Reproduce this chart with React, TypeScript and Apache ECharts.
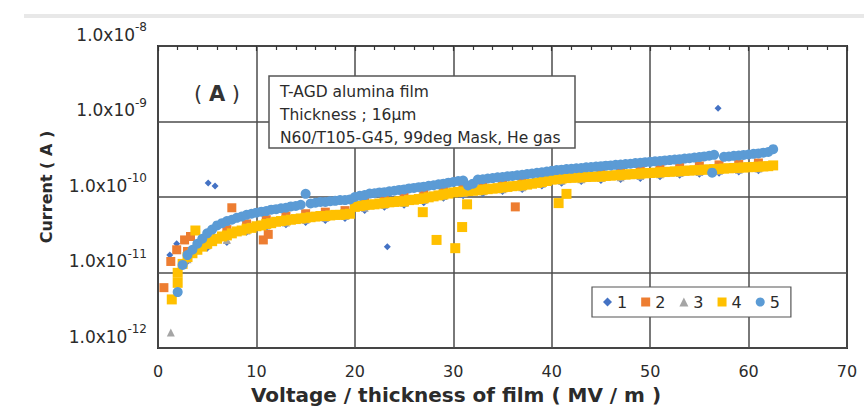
import React, { useEffect, useRef } from "react";
import * as echarts from "echarts";

// ---------- data (current values in pA = 1e-12 A) ----------
const seriesNames = ["1", "2", "3", "4", "5"];
const xMin = 0;
const xMax = 70;
const xStep = 10;
const yMin = 1e-12;
const yMax = 1e-8;

const bandX = [
  3, 3.5, 4, 4.5, 5, 5.5, 6, 6.5, 7, 7.5,
  8, 8.5, 9, 9.5, 10, 10.5, 11, 11.5, 12, 12.5,
  13, 13.5, 14, 14.5, 15, 15.5, 16, 16.5, 17, 17.5,
  18, 18.5, 19, 19.5, 20, 20.5, 21, 21.5, 22, 22.5,
  23, 23.5, 24, 24.5, 25, 25.5, 26, 26.5, 27, 27.5,
  28, 28.5, 29, 29.5, 30, 30.5, 31, 31.5, 32, 32.5,
  33, 33.5, 34, 34.5, 35, 35.5, 36, 36.5, 37, 37.5,
  38, 38.5, 39, 39.5, 40, 40.5, 41, 41.5, 42, 42.5,
  43, 43.5, 44, 44.5, 45, 45.5, 46, 46.5, 47, 47.5,
  48, 48.5, 49, 49.5, 50, 50.5, 51, 51.5, 52, 52.5,
  53, 53.5, 54, 54.5, 55, 55.5, 56, 56.5, 57, 57.5,
  58, 58.5, 59, 59.5, 60, 60.5, 61, 61.5, 62, 62.5,
];

const s5Band = [
  17, 20, 24, 28, 33, 37, 42, 45, 48, 50,
  53, 55, 58, 60, 62, 64, 65, 68, 69, 71,
  72, 75, 76, 79, 110, 82, 84, 86, 86, 88,
  89, 91, 91, 93, 100, 104, 106, 111, 112, 115,
  116, 119, 121, 124, 126, 130, 132, 135, 137, 141,
  143, 147, 150, 155, 158, 163, 165, 142, 150, 170,
  172, 176, 178, 182, 184, 188, 190, 194, 197, 201,
  204, 209, 212, 217, 222, 227, 230, 234, 236, 240,
  242, 247, 249, 253, 256, 260, 262, 267, 269, 273,
  276, 281, 284, 289, 292, 297, 300, 305, 308, 313,
  317, 323, 327, 333, 338, 345, 352, 362, null, 340,
  344, 351, 355, 361, 366, 373, 378, 387, 395, 430,
];

const s4Band = [
  16, 18, 20, 22, 24, 26, 28, 30, 31, 33,
  35, 36, 38, 39, 41, 42, 44, 45, 47, 48,
  49, 50, 51, 52, 53, 54, 55, 56, 56, 57,
  58, 58, 59, 60, 74, 76, 78, 79, 80, 82,
  83, 85, 86, 88, 87, 91, 92, 94, 96, 99,
  102, 105, 108, 111, 115, 117, 118, 120, 121, 123,
  125, 127, 129, 131, 134, 136, 139, 141, 143, 146,
  150, 154, 158, 163, 170, 172, 175, 178, 180, 181,
  182, 184, 185, 187, 186, 190, 192, 194, 196, 198,
  200, 202, 204, 206, 208, 210, 212, 214, 216, 218,
  220, 222, 224, 226, 228, 230, 232, 234, 236, 238,
  240, 242, 244, 246, 248, 250, 252, 254, 256, 262,
];

const coarseX = [
  3, 5, 7, 9, 11, 13, 15, 17, 19, 21,
  23, 25, 27, 29, 31, 33, 35, 37, 39, 41,
  43, 45, 47, 49, 51, 53, 55, 57, 59, 61,
];
const s1Band = [
  14, 21, 25, 34, 39, 43, 46, 49, 52, 66,
  73, 78, 84, 96, 104, 110, 118, 126, 140, 152,
  160, 165, 170, 176, 186, 194, 200, 206, 214, 222,
];
const s2Band = [
  19, 28, 37, 44, 50, 56, 60, 63, 66, 88,
  96, 102, 110, 124, 136, 144, 154, 166, 182, 200,
  208, 214, 222, 230, 240, 250, 258, 266, 274, 282,
];
const s3Band = [
  15, 23, 27, 36, 42, 46, 50, 53, 56, 72,
  79, 84, 91, 103, 112, 119, 127, 135, 150, 164,
  172, 178, 183, 190, 200, 208, 215, 222, 230, 238,
];

const s1ExtraX = [1.2, 1.9, 5.1, 5.8, 23.3, 56.9];
const s1ExtraY = [17, 24, 153, 140, 22, 1500];
const s2ExtraX = [0.6, 1.3, 1.9, 2.7, 3.3, 7.5, 10.7, 11.2, 36.3];
const s2ExtraY = [6.3, 14, 20, 27, 30, 72, 27, 32, 74];
const s3ExtraX = [1.3];
const s3ExtraY = [1.6];
const s4ExtraX = [1.4, 2.0, 2.0, 2.5, 3.8, 26.9, 28.3, 30.2, 30.9, 31.4, 40.7, 41.5];
const s4ExtraY = [4.4, 7.3, 9.9, 13, 36, 63, 27, 21, 40, 80, 83, 110];
const s5ExtraX = [2.0, 2.5, 56.3];
const s5ExtraY = [5.5, 12.6, 210];

const annotationLines = [
  "T-AGD alumina film",
  "Thickness ; 16μm",
  "N60/T105-G45, 99deg Mask, He gas",
];

// ---------- helpers ----------
const PA = 1e-12;
function pairs(xs: number[], ys: (number | null)[]) {
  const out: [number, number][] = [];
  xs.forEach((x, i) => {
    const y = ys[i];
    if (y !== null && y !== undefined) out.push([x, y * PA]);
  });
  return out;
}

const FONT = "DejaVu Sans";
const TXT = "#2b2b2b";

export default function App() {
  const ref = useRef<HTMLDivElement>(null);

  useEffect(() => {
    if (!ref.current) return;
    const chart = echarts.init(ref.current, null, { renderer: "svg" });

    const styles = [
      { symbol: "diamond", size: 7, color: "#4472C4" },
      { symbol: "rect", size: 9, color: "#ED7D31" },
      { symbol: "triangle", size: 8, color: "#A5A5A5" },
      { symbol: "rect", size: 10, color: "#FFC000" },
      { symbol: "circle", size: 10, color: "#5B9BD5" },
    ];
    const datas = [
      [...pairs(coarseX, s1Band), ...pairs(s1ExtraX, s1ExtraY)],
      [...pairs(coarseX, s2Band), ...pairs(s2ExtraX, s2ExtraY)],
      [...pairs(coarseX, s3Band), ...pairs(s3ExtraX, s3ExtraY)],
      [...pairs(bandX, s4Band), ...pairs(s4ExtraX, s4ExtraY)],
      [...pairs(bandX, s5Band), ...pairs(s5ExtraX, s5ExtraY)],
    ];

    const series = seriesNames.map((name, i) => ({
      name,
      type: "scatter",
      xAxisIndex: 0,
      yAxisIndex: 0,
      symbol: styles[i].symbol,
      symbolSize: styles[i].size,
      itemStyle: { color: styles[i].color, opacity: 1 },
      data: datas[i],
      z: 3 + i,
      emphasis: { disabled: true },
    }));

    chart.setOption({
      animation: false,
      backgroundColor: "#ffffff",
      grid: {
        left: 158,
        top: 46,
        width: 689,
        height: 302,
        show: true,
        borderColor: "#333",
        borderWidth: 2,
        backgroundColor: "transparent",
      },
      xAxis: [
        {
          type: "value",
          position: "bottom",
          min: xMin,
          max: xMax,
          interval: xStep,
          axisLine: { show: false },
          axisTick: { show: false },
          splitLine: { show: true, lineStyle: { color: "#4d4d4d", width: 1.5 } },
          axisLabel: {
            margin: 15,
            fontFamily: FONT,
            fontSize: 16,
            color: TXT,
          },
        },
        {
          type: "value",
          position: "top",
          min: xMin,
          max: xMax,
          interval: xStep,
          axisLine: { show: false },
          axisTick: { show: true, inside: true, length: 5, lineStyle: { color: "#333", width: 1.2 } },
          minorTick: { show: true, splitNumber: 5, length: 4, lineStyle: { color: "#333", width: 1.2 } },
          splitLine: { show: false },
          axisLabel: { show: false },
        },
      ],
      yAxis: {
        type: "log",
        logBase: 10,
        min: yMin,
        max: yMax,
        axisLine: { show: false },
        axisTick: { show: false },
        splitLine: { show: true, lineStyle: { color: "#4d4d4d", width: 1.5 } },
        axisLabel: {
          margin: 11,
          align: "right",
          verticalAlign: "bottom",
          lineHeight: 22,
          padding: [0, 0, 3, 0],
          formatter: (v: number) => {
            const e = Math.round(Math.log10(v));
            return `{m|1.0x10}{s|${e}}`;
          },
          rich: {
            m: { fontFamily: FONT, fontSize: 17, color: TXT, verticalAlign: "bottom" },
            s: { fontFamily: FONT, fontSize: 12, color: TXT, verticalAlign: "top" },
          },
        },
      },
      legend: {
        show: true,
        orient: "horizontal",
        left: 592,
        top: 287,
        padding: [7, 11],
        itemGap: 14,
        itemWidth: 9,
        itemHeight: 9,
        borderColor: "#555",
        borderWidth: 1.2,
        backgroundColor: "#ffffff",
        selectedMode: false,
        textStyle: { fontFamily: FONT, fontSize: 16, color: TXT },
        data: seriesNames.map((n, i) => ({ name: n, icon: styles[i].symbol })),
      },
      graphic: [
        {
          type: "rect",
          left: 24,
          top: 14,
          shape: { width: 840, height: 4 },
          style: { fill: "#e8e8e8" },
          silent: true,
        },
        {
          type: "rect",
          z: 20,
          shape: { x: 269, y: 76, width: 306, height: 72 },
          style: { fill: "#ffffff", stroke: "#555", lineWidth: 1.5 },
          silent: true,
        },
        ...annotationLines.map((t, i) => ({
          type: "text",
          z: 21,
          x: 280,
          y: 92 + i * 23,
          style: {
            text: t,
            font: `15.5px "${FONT}"`,
            fill: TXT,
            align: "left",
            verticalAlign: "middle",
            textAlign: "left",
            textVerticalAlign: "middle",
          },
          silent: true,
        })),
        {
          type: "text",
          z: 21,
          x: 217,
          y: 94,
          style: {
            text: "{p|(} {a|A} {p|)}",
            align: "center",
            verticalAlign: "middle",
            textAlign: "center",
            textVerticalAlign: "middle",
            rich: {
              p: { fontFamily: FONT, fontSize: 21, color: "#333" },
              a: { fontFamily: FONT, fontSize: 21, fontWeight: "bold", color: "#333" },
            },
            font: `21px "${FONT}"`,
            fill: "#333",
          },
          silent: true,
        },
        {
          type: "text",
          x: 456,
          y: 395,
          style: {
            text: "Voltage / thickness of film ( MV / m )",
            font: `bold 20px "${FONT}"`,
            fill: TXT,
            align: "center",
            verticalAlign: "middle",
            textAlign: "center",
            textVerticalAlign: "middle",
          },
          silent: true,
        },
        {
          type: "text",
          x: 46,
          y: 187,
          rotation: Math.PI / 2,
          style: {
            text: "Current ( A )",
            font: `bold 16px "${FONT}"`,
            fill: TXT,
            align: "center",
            verticalAlign: "middle",
            textAlign: "center",
            textVerticalAlign: "middle",
          },
          silent: true,
        },
      ],
      series,
    });

    return () => chart.dispose();
  }, []);

  return (
    <div
      ref={ref}
      style={{ position: "fixed", left: 0, top: 0, width: 864, height: 416, background: "#fff" }}
    />
  );
}
